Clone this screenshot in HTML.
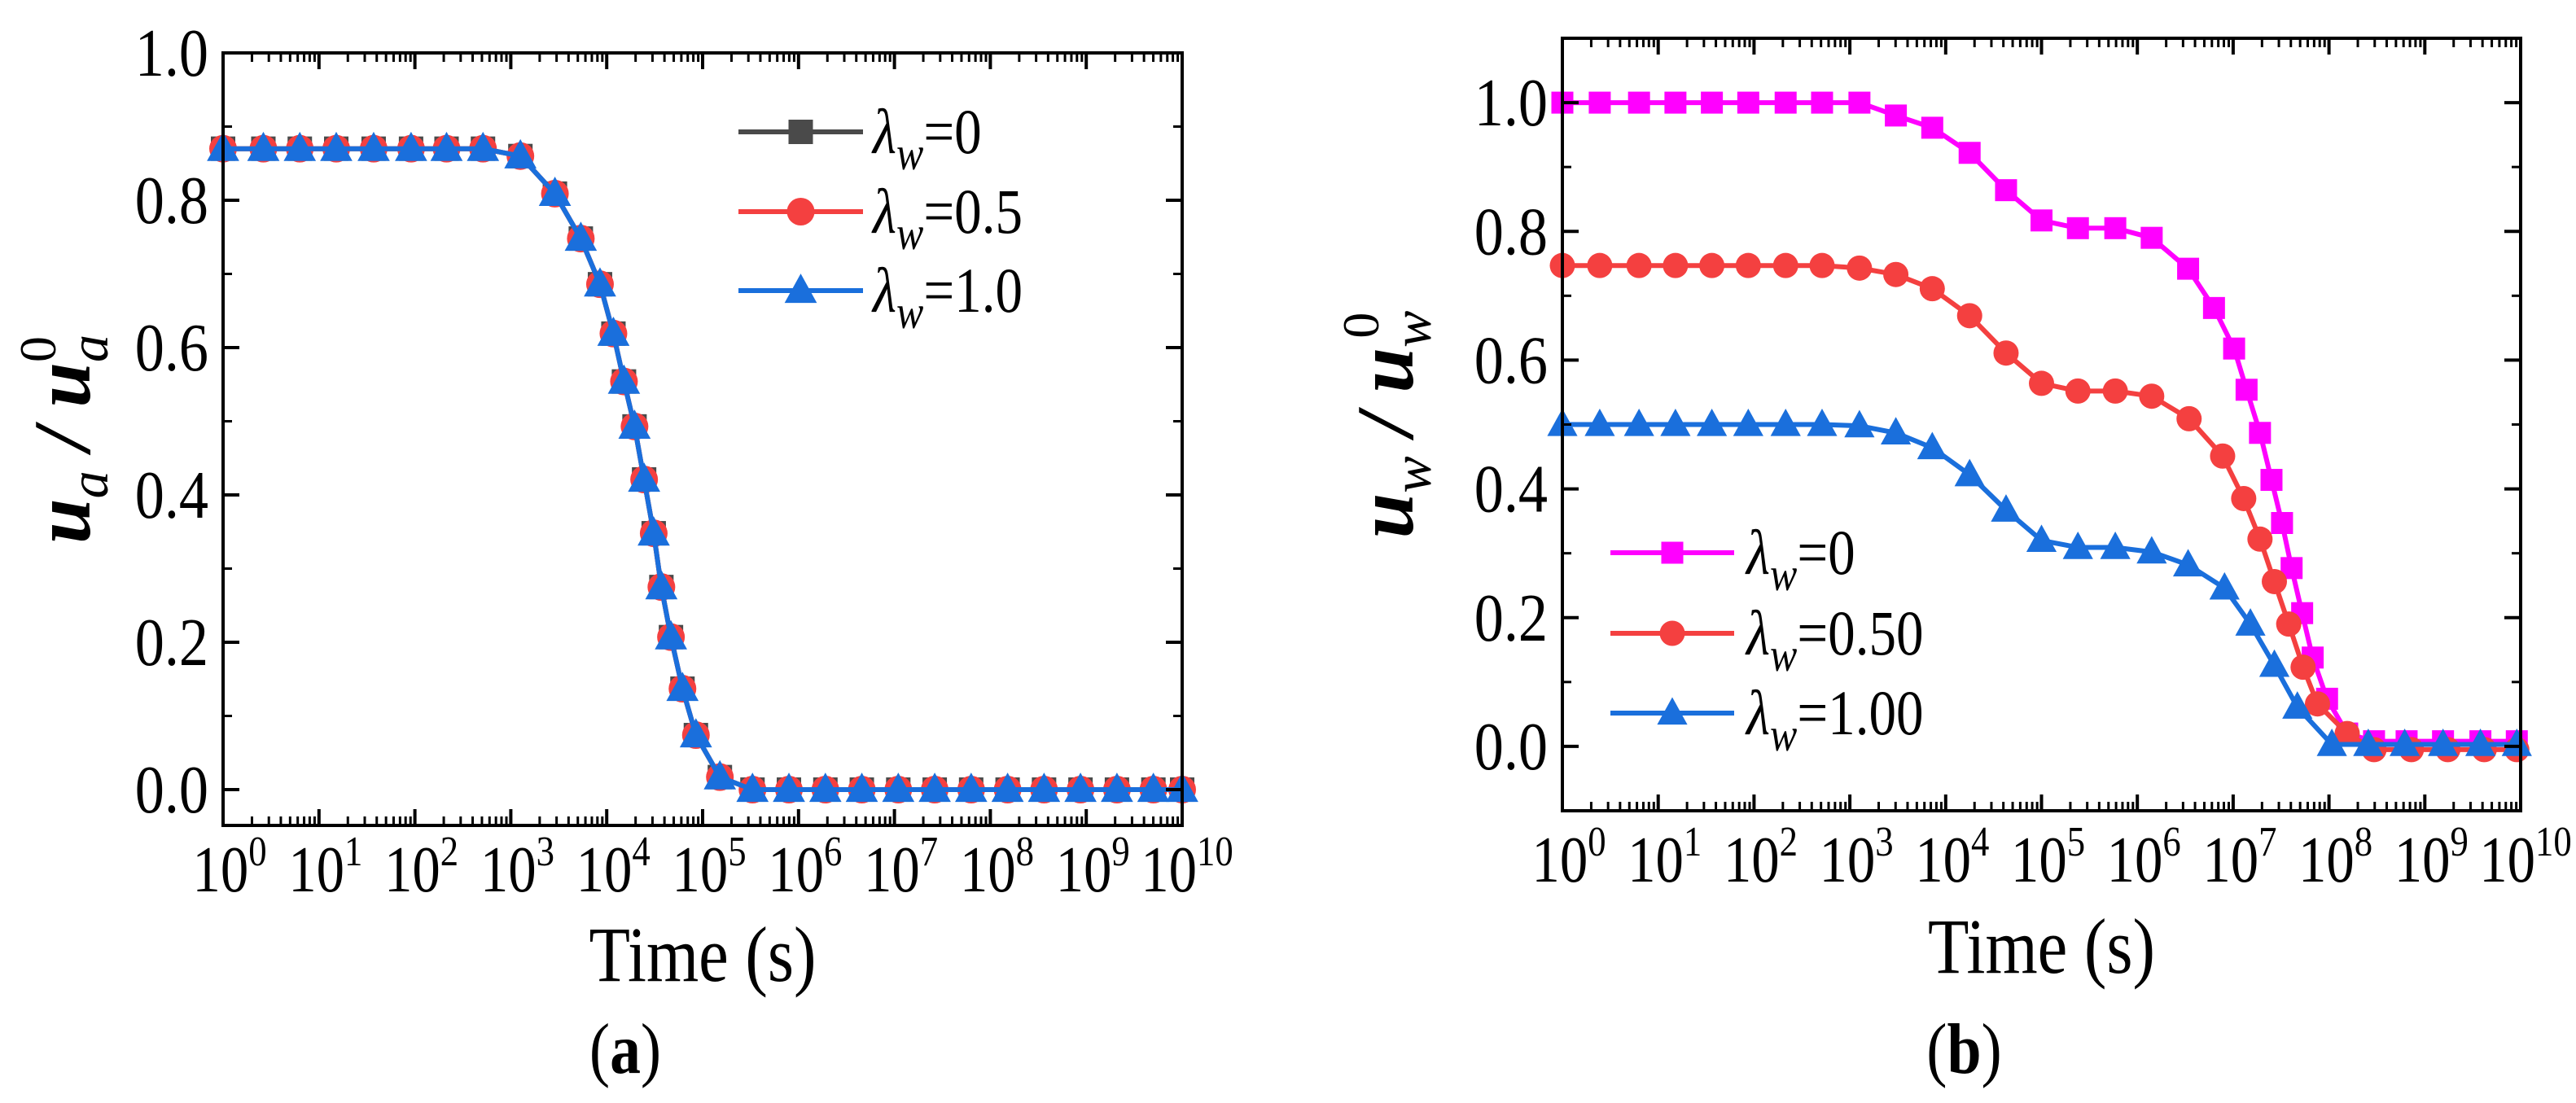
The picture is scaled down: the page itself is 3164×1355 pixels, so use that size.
<!DOCTYPE html>
<html><head><meta charset="utf-8"><style>
html,body{margin:0;padding:0;background:#fff;}
svg, svg text, svg tspan{font-family:"Liberation Serif","Times New Roman",serif !important;}
</style></head><body>
<svg id="fig" width="3164" height="1350" viewBox="0 0 3164 1350" xmlns="http://www.w3.org/2000/svg" font-family="Liberation Serif, serif">
<g id="pa"></g>
<g id="pb"></g>
</svg>
<script>
// Panel (a) data (log10 time, value); three series coincide
const aLogT = [0,0.42,0.80,1.18,1.57,1.96,2.33,2.71,3.10,3.46,3.73,3.93,4.07,4.18,4.29,4.39,4.49,4.57,4.67,4.79,4.93,5.18,5.52,5.90,6.28,6.66,7.04,7.42,7.80,8.18,8.56,8.94,9.32,9.70,10.0];
const aVals = [0.87,0.87,0.87,0.87,0.87,0.87,0.87,0.87,0.86,0.809,0.748,0.686,0.619,0.554,0.493,0.421,0.348,0.275,0.207,0.137,0.074,0.017,0,0,0,0,0,0,0,0,0,0,0,0,0];
const aNames = ["λw=0","λw=0.5","λw=1.0"];
// Panel (b) data
const b0LogT = [0,0.39,0.8,1.18,1.56,1.94,2.33,2.71,3.1,3.48,3.86,4.25,4.63,5.0,5.38,5.77,6.15,6.53,6.8,7.01,7.14,7.28,7.4,7.51,7.61,7.72,7.83,7.98,8.19,8.47,8.81,9.19,9.58,9.96];
const b0Vals = [1,1,1,1,1,1,1,1,1,0.98,0.961,0.922,0.864,0.817,0.805,0.805,0.79,0.742,0.681,0.618,0.554,0.487,0.414,0.347,0.277,0.207,0.138,0.074,0.02,0.008,0.008,0.008,0.008,0.008];
const b1LogT = [0,0.39,0.8,1.18,1.56,1.94,2.33,2.71,3.1,3.48,3.86,4.25,4.63,5.0,5.38,5.77,6.15,6.54,6.89,7.11,7.28,7.43,7.58,7.73,7.88,8.19,8.47,8.86,9.24,9.62,9.96];
const b1Vals = [0.747,0.747,0.747,0.747,0.747,0.747,0.747,0.747,0.743,0.733,0.711,0.669,0.611,0.564,0.552,0.552,0.544,0.509,0.451,0.385,0.322,0.256,0.19,0.123,0.066,0.02,-0.005,-0.005,-0.005,-0.005,-0.005];
const b2LogT = [0,0.39,0.8,1.18,1.56,1.94,2.33,2.71,3.1,3.48,3.86,4.25,4.63,5.0,5.38,5.77,6.15,6.53,6.91,7.18,7.43,7.67,8.03,8.41,8.79,9.19,9.58,9.96];
const b2Vals = [0.5,0.5,0.5,0.5,0.5,0.5,0.5,0.5,0.498,0.487,0.464,0.422,0.367,0.32,0.309,0.309,0.302,0.282,0.246,0.19,0.126,0.061,0.003,0.003,0.003,0.003,0.003,0.003];
const bNames = ["λw=0","λw=0.50","λw=1.00"];
const xTicks = [0,1,2,3,4,5,6,7,8,9,10];
const aYTicks = [0,0.2,0.4,0.6,0.8,1.0];
const bYTicks = [0,0.2,0.4,0.6,0.8,1.0];

const NS="http://www.w3.org/2000/svg";
const FF='"Liberation Serif", serif';
const SX=0.86;
function mk(parent,tag,attrs){const e=document.createElementNS(NS,tag);for(const k in attrs)e.setAttribute(k,attrs[k]);if(tag==='text')e.setAttribute('font-family',FF);parent.appendChild(e);return e;}
function txt(parent,x,y,attrs){attrs.transform=`translate(${x},${y}) scale(${SX},1)`;attrs.x=0;attrs.y=0;return mk(parent,'text',attrs);}

function marker(g,type,cx,cy,color,s){
  let m;
  if(type==='sq'){m=mk(g,'rect',{x:cx-s/2,y:cy-s/2,width:s,height:s,fill:color});}
  else if(type==='ci'){m=mk(g,'circle',{cx:cx,cy:cy,r:s/2+2,fill:color});}
  else {const h=s*1.05;m=mk(g,'polygon',{points:`${cx},${cy-h*0.62} ${cx-s*0.62},${cy+h*0.45} ${cx+s*0.62},${cy+h*0.45}`,fill:color});}
  return m;
}

function panel(g,cfg){
  const {L,R,T,B,ymin,ymax}=cfg;
  const sx=v=>L+(v-0)/(10-0)*(R-L);
  const sy=v=>B-(v-ymin)/(ymax-ymin)*(B-T);
  cfg.series.forEach((s,si)=>{
    const sg=mk(g,'g',{});
    
    
    const pts=s.x.map((lx,i)=>sx(lx).toFixed(1)+','+sy(s.y[i]).toFixed(1)).join(' ');
    const pl=mk(sg,'polyline',{points:pts,fill:'none',stroke:s.color,'stroke-width':6,'stroke-linejoin':'round'});
    
    
    s.x.forEach((lx,i)=>{
      const m=marker(sg,s.type,sx(lx),sy(s.y[i]),s.color,s.size);
      
      
    });
  });
  const fr=mk(g,'rect',{x:L,y:T,width:R-L,height:B-T,fill:'none',stroke:'#000','stroke-width':4});
  
  
  const xg=mk(g,'g',{});
  
  
  xTicks.forEach(k=>{
    const x=sx(k);
    mk(xg,'line',{x1:x,x2:x,y1:B,y2:B-20,stroke:'#000','stroke-width':4});
    mk(xg,'line',{x1:x,x2:x,y1:T,y2:T+20,stroke:'#000','stroke-width':4});
    if(k<10){for(let m=2;m<10;m++){const xm=sx(k+Math.log10(m));
      mk(xg,'line',{x1:xm,x2:xm,y1:B,y2:B-11,stroke:'#000','stroke-width':3});
      mk(xg,'line',{x1:xm,x2:xm,y1:T,y2:T+11,stroke:'#000','stroke-width':3});}}
    const t=txt(xg,x+(k===10?6:8),cfg.xlabY,{'font-size':80,'text-anchor':'middle'});
    
    
    const a=mk(t,'tspan',{});a.textContent='10';
    const b=mk(t,'tspan',{dy:-32,'font-size':52});b.textContent=String(k);
  });
  const yg=mk(g,'g',{});
  
  
  cfg.yTicks.forEach(v=>{
    const y=sy(v);
    mk(yg,'line',{x1:L,x2:L+20,y1:y,y2:y,stroke:'#000','stroke-width':4});
    mk(yg,'line',{x1:R,x2:R-20,y1:y,y2:y,stroke:'#000','stroke-width':4});
    const t=txt(yg,L-18,y+28,{'font-size':84,'text-anchor':'end'});
    
    
    t.textContent=v.toFixed(1);
  });
  for(let v=Math.ceil(ymin*10)/10; v<=ymax+1e-9; v+=0.1){
    const r=Math.round(v*10);
    if(r%2!==0){const y=sy(v);
      mk(yg,'line',{x1:L,x2:L+11,y1:y,y2:y,stroke:'#000','stroke-width':3});
      mk(yg,'line',{x1:R,x2:R-11,y1:y,y2:y,stroke:'#000','stroke-width':3});}
  }
  const lg=mk(g,'g',{});
  
  
  cfg.series.forEach((s,i)=>{
    const y=cfg.legY[i];
    const e=mk(lg,'g',{});
    
    
    mk(e,'line',{x1:cfg.legX1,x2:cfg.legX2,y1:y,y2:y,stroke:s.color,'stroke-width':6});
    marker(e,s.type,(cfg.legX1+cfg.legX2)/2,y,s.color,s.size);
    const t=txt(e,cfg.legTX,y+26,{'font-size':78});
    const l=mk(t,'tspan',{'font-style':'italic'});l.textContent='λ';
    const w=mk(t,'tspan',{'font-style':'italic',dy:20,'font-size':58});w.textContent='w';
    const v=mk(t,'tspan',{dy:-20});v.textContent=s.label.replace('λw','');
  });
  const xt=txt(g,(L+R)/2,cfg.xtY,{'font-size':96,'text-anchor':'middle'});
  
  
  xt.textContent='Time (s)';
  const yt=mk(g,'text',{transform:`translate(${cfg.ytX},${(T+B)/2}) rotate(-90)`,'font-size':100,'text-anchor':'middle','font-weight':'bold','font-style':'italic'});
  
  
  const s1=mk(yt,'tspan',{});s1.textContent='u';
  const s2=mk(yt,'tspan',{dy:22,'font-size':68,'font-weight':'normal'});s2.textContent=cfg.sub;
  const s3=mk(yt,'tspan',{dy:-22});s3.textContent=' / u';
  const s4=mk(yt,'tspan',{dy:22,'font-size':68,'font-weight':'normal'});s4.textContent=cfg.sub;
  const s5=mk(yt,'tspan',{dx:-34,dy:-64,'font-size':64,'font-style':'normal','font-weight':'normal'});s5.textContent='0';
  const cap=txt(g,(L+R)/2-95,1318,{'font-size':88,'text-anchor':'middle'});
  
  
  const c1=mk(cap,'tspan',{});c1.textContent='(';
  const c2=mk(cap,'tspan',{'font-weight':'bold'});c2.textContent=cfg.cap;
  const c3=mk(cap,'tspan',{});c3.textContent=')';
}

panel(document.getElementById('pa'),{L:274,R:1452,T:65,B:1014,ymin:-0.0486,ymax:1.0,yTicks:aYTicks,xlabY:1095,
  legX1:907,legX2:1060,legTX:1072,legY:[162,260,357],xtY:1205,ytX:110,sub:'a',cap:'a',
  series:[
    {key:'lw0',label:aNames[0],x:aLogT,y:aVals,color:'#4a4a4a',type:'sq',size:30},
    {key:'lw05',label:aNames[1],x:aLogT,y:aVals,color:'#f44040',type:'ci',size:30},
    {key:'lw10',label:aNames[2],x:aLogT,y:aVals,color:'#1a6fdc',type:'tr',size:32}
  ]});
panel(document.getElementById('pb'),{L:1919,R:3096,T:47,B:996,ymin:-0.1,ymax:1.1,yTicks:bYTicks,xlabY:1083,
  legX1:1978,legX2:2130,legTX:2145,legY:[679,778,876],xtY:1195,ytX:1735,sub:'w',cap:'b',
  series:[
    {key:'lw0',label:bNames[0],x:b0LogT,y:b0Vals,color:'#ff00ff',type:'sq',size:27},
    {key:'lw050',label:bNames[1],x:b1LogT,y:b1Vals,color:'#f44040',type:'ci',size:27},
    {key:'lw100',label:bNames[2],x:b2LogT,y:b2Vals,color:'#1a6fdc',type:'tr',size:30}
  ]});
</script>
</body></html>
